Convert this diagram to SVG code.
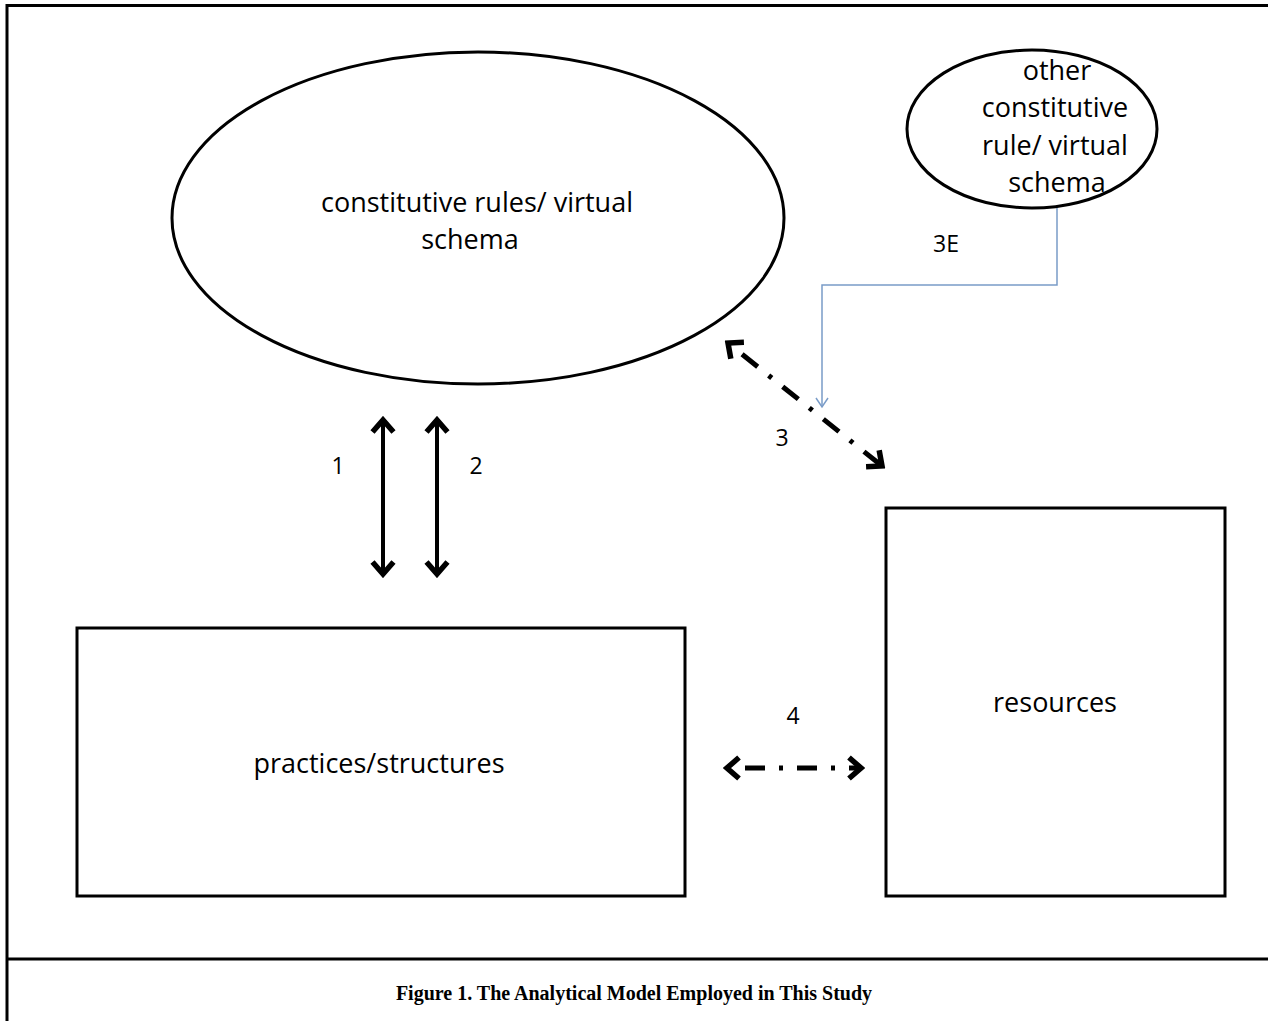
<svg xmlns="http://www.w3.org/2000/svg" width="1268" height="1021" viewBox="0 0 1268 1021">
<style>
.shape{fill:#fff;stroke:#000;stroke-width:3}
.lbl{font-family:"Open Sans","Liberation Sans",sans-serif;font-size:27px;fill:#000;text-anchor:middle}
.num{font-family:"Open Sans","Liberation Sans",sans-serif;font-size:23px;fill:#000;text-anchor:middle}
.cap{font-family:"Liberation Serif",serif;font-weight:bold;font-size:20px;fill:#000;text-anchor:middle}
.thick{stroke:#000;stroke-width:4;fill:none}
.dd{stroke:#000;stroke-width:5;fill:none;stroke-dasharray:4 14 20 14}
.blue{stroke:#7a9cc8;stroke-width:1.5;fill:none}
</style>
<defs>
<marker id="chev" markerUnits="userSpaceOnUse" viewBox="-16 -14 20 28" markerWidth="20" markerHeight="28" refX="0" refY="0" orient="auto-start-reverse">
<path d="M-12,-10.5 L0,0 L-12,10.5" fill="none" stroke="#000" stroke-width="5.5" stroke-linejoin="miter"/>
</marker>
<marker id="bchev" markerUnits="userSpaceOnUse" viewBox="-10 -8 12 16" markerWidth="12" markerHeight="16" refX="0" refY="0" orient="auto">
<path d="M-9,-6 L0,0 L-9,6" fill="none" stroke="#7a9cc8" stroke-width="1.5"/>
</marker>
</defs>
<rect width="1268" height="1021" fill="#fff"/>
<g id="frame" stroke="#000" stroke-width="3" fill="none">
<line x1="7" y1="5.5" x2="1268" y2="5.5"/>
<line x1="7" y1="4" x2="7" y2="1021"/>
<line x1="7" y1="959" x2="1268" y2="959"/>
</g>
<g id="connectors">
<line class="thick" x1="383" y1="420" x2="383" y2="574" marker-start="url(#chev)" marker-end="url(#chev)"/>
<line class="thick" x1="437" y1="420" x2="437" y2="574" marker-start="url(#chev)" marker-end="url(#chev)"/>
<line class="dd" x1="728" y1="343" x2="882" y2="466" marker-start="url(#chev)" marker-end="url(#chev)"/>
<line class="dd" x1="727" y1="768" x2="861" y2="768" marker-start="url(#chev)" marker-end="url(#chev)"/>
<polyline class="blue" points="1057,208 1057,285 822,285 822,407" marker-end="url(#bchev)"/>
<text class="num" x="338" y="474">1</text>
<text class="num" x="476" y="474">2</text>
<text class="num" x="782" y="446">3</text>
<text class="num" x="946" y="252">3E</text>
<text class="num" x="793" y="724">4</text>
</g>
<g id="node-rules">
<ellipse class="shape" cx="478" cy="218" rx="306" ry="166"/>
<text class="lbl" x="477" y="212">constitutive rules/ virtual</text>
<text class="lbl" x="470" y="249">schema</text>
</g>
<g id="node-other">
<ellipse class="shape" cx="1032" cy="129" rx="125" ry="79"/>
<text class="lbl" x="1057" y="80">other</text>
<text class="lbl" x="1055" y="117">constitutive</text>
<text class="lbl" x="1055" y="155">rule/ virtual</text>
<text class="lbl" x="1057" y="192">schema</text>
</g>
<g id="node-practices">
<rect class="shape" x="77" y="628" width="608" height="268"/>
<text class="lbl" x="379" y="773">practices/structures</text>
</g>
<g id="node-resources">
<rect class="shape" x="886" y="508" width="339" height="388"/>
<text class="lbl" x="1055" y="712">resources</text>
</g>
<text id="caption" class="cap" x="634" y="1000">Figure 1. The Analytical Model Employed in This Study</text>
</svg>
